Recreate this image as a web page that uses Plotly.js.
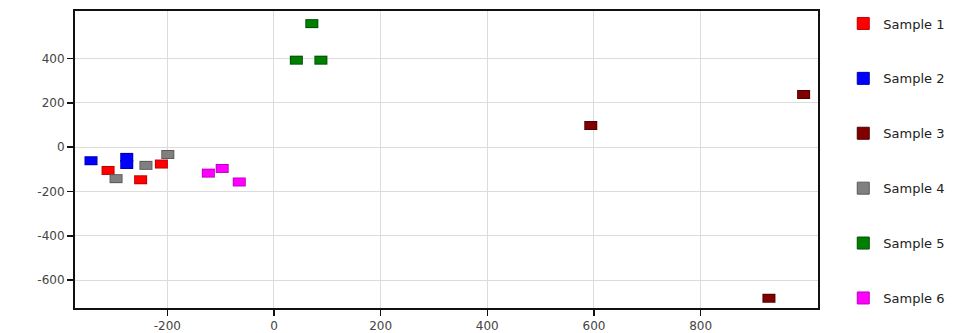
<!DOCTYPE html>
<html>
<head>
<meta charset="utf-8">
<script src="https://cdn.plot.ly/plotly-3.0.1.min.js"></script>
<style>html,body{margin:0;padding:0;background:#fff}#chart{width:973px;height:333px}</style>
</head>
<body>
<div id="chart"></div>
<script>
var sampleNames = ["Sample 1", "Sample 2", "Sample 3", "Sample 4", "Sample 5", "Sample 6"];
var sampleColors = ["#ff0000", "#0000ff", "#800000", "#808080", "#008000", "#ff00ff"];
var sampleBorders = ["#c00000", "#0000b0", "#500000", "#5a5a5a", "#005000", "#c000c0"];

var s1x = [-311, -250, -211];
var s1y = [-105, -147, -76];
var s2x = [-343, -276, -276];
var s2y = [-61, -46, -78];
var s3x = [594, 993, 928];
var s3y = [98, 238, -682];
var s4x = [-296, -240, -199];
var s4y = [-142, -82, -33];
var s5x = [71, 42, 88];
var s5y = [558, 393, 393];
var s6x = [-123, -97, -65];
var s6y = [-117, -96, -157];

var xs = [s1x, s2x, s3x, s4x, s5x, s6x];
var ys = [s1y, s2y, s3y, s4y, s5y, s6y];

var xTicks = [-200, 0, 200, 400, 600, 800];
var yTicks = [-600, -400, -200, 0, 200, 400];

var traces = [];
for (var i = 0; i < sampleNames.length; i++) {
  traces.push({
    x: xs[i], y: ys[i], type: 'scatter', mode: 'markers',
    showlegend: false, hoverinfo: 'skip',
    marker: {symbol: 'line-ew', size: 9.3, color: sampleBorders[i],
             line: {color: sampleBorders[i], width: 9}}
  });
  traces.push({
    x: xs[i], y: ys[i], type: 'scatter', mode: 'markers',
    showlegend: false, name: sampleNames[i],
    marker: {symbol: 'line-ew', size: 8, color: sampleColors[i],
             line: {color: sampleColors[i], width: 7}}
  });
}
for (var j = 0; j < sampleNames.length; j++) {
  traces.push({
    x: [null], y: [null], type: 'scatter', mode: 'markers',
    name: sampleNames[j], legendgroup: 'g' + j, showlegend: true,
    marker: {symbol: 'square', size: 12, color: sampleColors[j],
             line: {color: sampleBorders[j], width: 1}}
  });
}

var layout = {
  width: 973, height: 333,
  margin: {l: 75, r: 155, t: 10, b: 25, pad: 0},
  paper_bgcolor: '#ffffff', plot_bgcolor: '#ffffff',
  font: {family: 'DejaVu Sans, sans-serif', size: 12, color: '#444'},
  showlegend: true,
  legend: {
    x: 1.034, xanchor: 'left', y: 1.005, yanchor: 'top',
    tracegroupgap: 35, maxheight: 500,
    font: {family: 'DejaVu Sans, sans-serif', size: 13, color: '#222'},
    bgcolor: 'rgba(0,0,0,0)'
  },
  xaxis: {
    range: [-373, 1020], tickvals: xTicks, ticktext: xTicks.map(String),
    showgrid: true, gridcolor: '#dcdcdc', gridwidth: 1,
    zeroline: false, showline: true, linecolor: '#111', linewidth: 2,
    mirror: true, ticks: 'outside', ticklen: 6, tickcolor: '#111', tickwidth: 1.5,
    tickfont: {family: 'DejaVu Sans, sans-serif', size: 12, color: '#444'}
  },
  yaxis: {
    range: [-726, 615], tickvals: yTicks, ticktext: yTicks.map(String),
    showgrid: true, gridcolor: '#dcdcdc', gridwidth: 1,
    zeroline: false, showline: true, linecolor: '#111', linewidth: 2,
    mirror: true, ticks: 'outside', ticklen: 6, tickcolor: '#111', tickwidth: 1.5,
    tickfont: {family: 'DejaVu Sans, sans-serif', size: 12, color: '#444'}
  }
};

Plotly.newPlot('chart', traces, layout, {displayModeBar: false, staticPlot: true});
</script>
</body>
</html>
